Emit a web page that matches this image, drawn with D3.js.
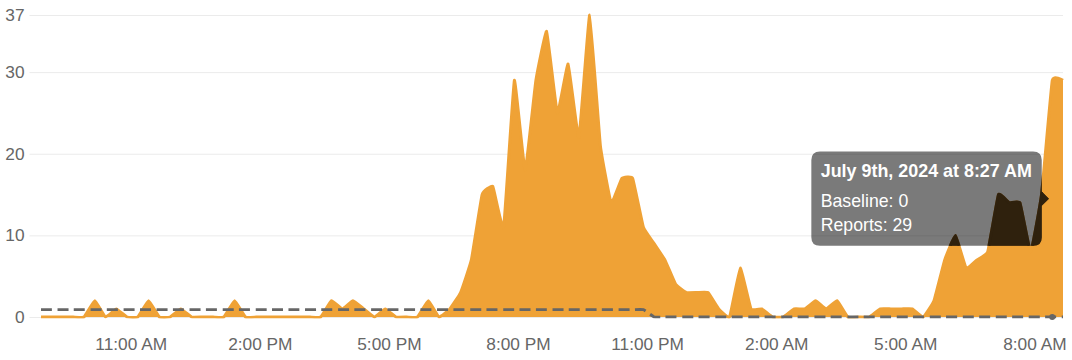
<!DOCTYPE html>
<html><head><meta charset="utf-8">
<script src="https://cdn.jsdelivr.net/npm/d3@7"></script>
<style>
body{margin:0;background:#fff}
svg{display:block}
text{font-family:"Liberation Sans",Arial,Helvetica,sans-serif}
</style>
</head><body>
<svg id="c" width="1072" height="360"></svg>
<script>
// ---- data ----
const startTime = "2024-07-08T08:57";   // first sample
const intervalMinutes = 15;
const reports = [
  0,0,0,0,0,2,0,1,0,0, 2,0,0,1,0,0,0,0,2,0,
  0,0,0,0,0,0,0,2,1,2, 1,0,1,0,0,0,2,0,1,3,
  7,15,16,11,29,18,29,35,25,31, 22,37,21,14,17,17,11,9,7,4,
  3,3,3,1,0,6,1,1,0,0, 1,1,2,1,2,0,0,0,1,1,
  1,1,0,2,7,10,6,7,8,15, 14,14,8,15,29,29
];
const baseline = [
  0.9,0.9,0.9,0.9,0.9,0.9,0.9,0.9,0.9,0.9, 0.9,0.9,0.9,0.9,0.9,0.9,0.9,0.9,0.9,0.9,
  0.9,0.9,0.9,0.9,0.9,0.9,0.9,0.9,0.9,0.9, 0.9,0.9,0.9,0.9,0.9,0.9,0.9,0.9,0.9,0.9,
  0.9,0.9,0.9,0.9,0.9,0.9,0.9,0.9,0.9,0.9, 0.9,0.9,0.9,0.9,0.9,0.9,0.9,0,0,0,
  0,0,0,0,0,0,0,0,0,0, 0,0,0,0,0,0,0,0,0,0,
  0,0,0,0,0,0,0,0,0,0, 0,0,0,0,0,0
];
const yTicks = [0, 10, 20, 30, 37];
const xTickTimes = ["2024-07-08T11:00","2024-07-08T14:00","2024-07-08T17:00","2024-07-08T20:00",
                    "2024-07-08T23:00","2024-07-09T02:00","2024-07-09T05:00","2024-07-09T08:00"];
const seriesNames = ["Baseline", "Reports"];
const hoverIndex = 94;
const tooltipTitle = "July 9th, 2024 at 8:27 AM";

// ---- chart ----
(function () {
const parse = d3.timeParse("%Y-%m-%dT%H:%M");
const t0 = parse(startTime);
const data = reports.map((v, i) => ({
  t: d3.timeMinute.offset(t0, i * intervalMinutes), r: v, b: baseline[i]
}));

const L = 41, R = 1063, T = 15, B = 317;
const svg = d3.select("#c");
const x = d3.scaleTime().domain([data[0].t, data[data.length - 1].t]).range([L, R]);
const y = d3.scaleLinear().domain([0, 37]).range([B, T]);

const ORANGE = "#efa236";

// grid + y labels
const yAxis = svg.append("g").attr("transform", "translate(29.5,0)")
  .call(d3.axisLeft(y).tickValues(yTicks).tickSize(-(R - 29.5)).tickPadding(5));
yAxis.select(".domain").remove();
yAxis.selectAll(".tick line").attr("stroke", "#ebebeb").attr("stroke-width", 1);
yAxis.selectAll(".tick text").attr("fill", "#666").style("font-size", "17.3px");

// x labels
const xAxis = svg.append("g").attr("transform", `translate(0,${B})`)
  .call(d3.axisBottom(x).tickValues(xTickTimes.map(parse))
    .tickFormat(d3.timeFormat("%-I:%M %p")).tickSize(0).tickPadding(21));
xAxis.select(".domain").remove();
xAxis.selectAll(".tick text").attr("fill", "#666").style("font-size", "17.3px")
  .attr("dx", 1.5);

const defs = svg.append("defs");
defs.append("clipPath").attr("id", "clip")
  .append("rect").attr("x", L - 2).attr("y", 0).attr("width", R - L + 4).attr("height", B + 1.6);

const curve = d3.curveCardinal.tension(0.7);
const areaGen = d3.area().x(d => x(d.t)).y0(y(0)).y1(d => y(d.r)).curve(curve);
const lineGen = d3.line().x(d => x(d.t)).y(d => y(d.r)).curve(curve);
const plot = svg.append("g").attr("clip-path", "url(#clip)");

plot.append("path").datum(data).attr("fill", ORANGE).attr("d", areaGen);
plot.append("path").datum(data)
  .attr("fill", "none").attr("stroke", ORANGE).attr("stroke-width", 2.9).attr("stroke-linejoin", "round")
  .attr("d", lineGen);

plot.append("path").datum(data)
  .attr("fill", "none").attr("stroke", "#666").attr("stroke-width", 2.9)
  .attr("stroke-dasharray", "11,5.5")
  .attr("d", d3.line().x(d => x(d.t)).y(d => y(d.b)).curve(curve));

// hover point
const hd = data[hoverIndex];
svg.append("circle").attr("cx", x(hd.t)).attr("cy", y(hd.b)).attr("r", 3).attr("fill", "#666");

// tooltip
const px = x(hd.t);
const py = (y(hd.r) + y(hd.b)) / 2;
const caret = 7.2, pad = 3.3, w = 230.4, h = 94.3, rr = 8.6;
const tipX = px - pad;
const bx1 = tipX - caret, bx0 = bx1 - w, by0 = py - h / 2, by1 = py + h / 2;
const p = d3.path();
p.moveTo(bx0 + rr, by0);
p.lineTo(bx1 - rr, by0);
p.quadraticCurveTo(bx1, by0, bx1, by0 + rr);
p.lineTo(bx1, py - caret);
p.lineTo(tipX, py);
p.lineTo(bx1, py + caret);
p.lineTo(bx1, by1 - rr);
p.quadraticCurveTo(bx1, by1, bx1 - rr, by1);
p.lineTo(bx0 + rr, by1);
p.quadraticCurveTo(bx0, by1, bx0, by1 - rr);
p.lineTo(bx0, by0 + rr);
p.quadraticCurveTo(bx0, by0, bx0 + rr, by0);
p.closePath();
defs.append("clipPath").attr("id", "tipclip").append("path").attr("d", p.toString());

svg.append("path").attr("d", p.toString()).attr("fill", "rgba(0,0,0,0.52)");
// area seen through the tooltip appears very dark
const under = svg.append("g").attr("clip-path", "url(#tipclip)");
under.append("path").datum(data).attr("fill", "#2f210d").attr("d", areaGen);
under.append("path").datum(data)
  .attr("fill", "none").attr("stroke", "#2f210d").attr("stroke-width", 2.9).attr("d", lineGen);

const tx = bx0 + 9.4;
svg.append("text").attr("x", tx).attr("y", by0 + 25.3).attr("fill", "#fff")
  .style("font-size", "17.9px").style("font-weight", "bold").text(tooltipTitle);
svg.append("text").attr("x", tx).attr("y", by0 + 55.6).attr("fill", "#fff")
  .style("font-size", "17.7px").text(`${seriesNames[0]}: ${hd.b}`);
svg.append("text").attr("x", tx).attr("y", by0 + 80).attr("fill", "#fff")
  .style("font-size", "17.7px").text(`${seriesNames[1]}: ${hd.r}`);
})();
</script>
</body></html>
